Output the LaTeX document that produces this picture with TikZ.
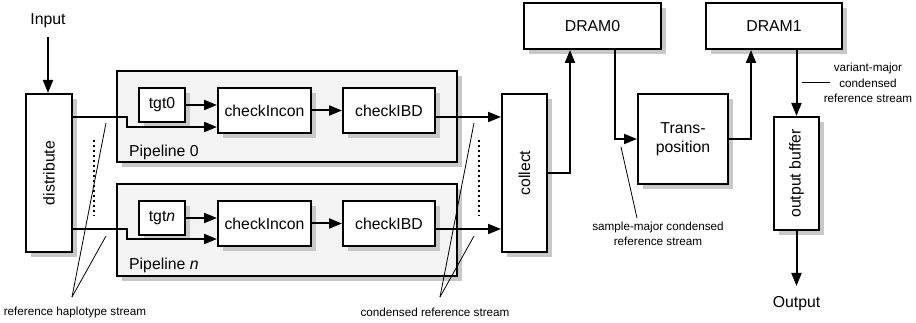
\documentclass[tikz,border=0pt]{standalone}
\usepackage{fontspec}
\setmainfont{Liberation Sans}
\usetikzlibrary{arrows.meta,shadows,calc}
\definecolor{shadowgray}{HTML}{C8C8C8}
\definecolor{pipefill}{HTML}{F3F3F3}
\tikzset{
  blk/.style={draw=black, line width=2pt, fill=white, inner sep=0pt,
    general shadow={fill=shadowgray, shadow xshift=5pt, shadow yshift=-5pt},
    font=\fontsize{15.8}{19}\selectfont, align=center},
  pipe/.style={blk, fill=pipefill},
  arr/.style={line width=2pt, -{Triangle[length=13pt,width=10pt]}},
  ann/.style={line width=0.8pt},
  small/.style={font=\fontsize{11.7}{15.5}\selectfont, align=center, inner sep=0pt},
  big/.style={font=\fontsize{15.8}{19}\selectfont, inner sep=0pt},
  dots/.style={line width=2pt, dash pattern=on 2pt off 3pt}
}
\begin{document}
\begin{tikzpicture}[x=1pt,y=-1pt]
\useasboundingbox (0,0) rectangle (916,323);
% pipelines
\node[pipe, minimum width=340, minimum height=91] (pipe0) at (287,116.5) {};
\node[pipe, minimum width=340, minimum height=92] (pipen) at (287,230) {};
\node[big, anchor=west] (pl0) at (129,152) {Pipeline 0};
\node[big, anchor=west] (pln) at (129,265) {Pipeline \textit{n}};
% blocks
\node[blk, minimum width=46, minimum height=158] (dist) at (49,173) {};
\node[big, rotate=90] (distl) at (dist.center) {distribute};
\node[blk, minimum width=46, minimum height=34] (tgt0) at (162,105) {tgt0};
\node[blk, minimum width=93, minimum height=45] (ci0) at (264.5,110.5) {checkIncon};
\node[blk, minimum width=92, minimum height=45] (ibd0) at (389,110.5) {checkIBD};
\node[blk, minimum width=46, minimum height=34] (tgtn) at (162,218) {tgt\textit{n}};
\node[blk, minimum width=93, minimum height=45] (cin) at (264.5,223.5) {checkIncon};
\node[blk, minimum width=92, minimum height=45] (ibdn) at (389,223.5) {checkIBD};
\node[blk, minimum width=45, minimum height=158] (coll) at (524.5,173) {};
\node[big, rotate=90] (colll) at (coll.center) {collect};
\node[blk, minimum width=137, minimum height=46] (dram0) at (592.5,26) {DRAM0};
\node[blk, minimum width=90, minimum height=90] (trans) at (683,139) {Trans-\\position};
\node[blk, minimum width=136, minimum height=46] (dram1) at (774,26) {DRAM1};
\node[blk, minimum width=45, minimum height=113] (obuf) at (796.5,173.5) {};
\node[big, rotate=90] (obufl) at (obuf.center) {output buffer};
% in / out
\node[big] (input) at (48,21) {Input};
\node[big] (output) at (796.5,304) {Output};
\draw[arr] (input.south |- 0,37) -- (dist.north -| input.south);
\draw[arr] (obuf.south) -- (output.north |- 0,286);
% pipeline 0 wiring
\draw[arr] (tgt0.east) -- (ci0.west |- tgt0.east);
\draw[arr] (dist.east |- 0,117) -- (127,117) -- (127,127) -- (ci0.west |- 0,127);
\draw[arr] (ci0.east) -- (ibd0.west);
\draw[arr] (ibd0.east |- 0,117) -- (coll.west |- 0,117);
% pipeline n wiring
\draw[arr] (tgtn.east) -- (cin.west |- tgtn.east);
\draw[arr] (dist.east |- 0,229) -- (127,229) -- (127,239) -- (cin.west |- 0,239);
\draw[arr] (cin.east) -- (ibdn.west);
\draw[arr] (ibdn.east |- 0,229) -- (coll.west |- 0,229);
% dots
\draw[dots] (94,140) -- (94,216);
\draw[dots] (479,140) -- (479,216);
% collect to DRAM etc
\draw[arr] (coll.east) -| ([xshift=-22.5pt]dram0.south);
\draw[arr] ([xshift=22.5pt]dram0.south) |- (trans.west);
\draw[arr] (trans.east) -| ([xshift=-23pt]dram1.south);
\draw[arr] (obuf.north |- dram1.south) -- (obuf.north);
% annotations
\node[small] (refh) at (75,312) {reference haplotype stream};
\coordinate (refhp) at (72,297);
\draw[ann] (refhp) -- (106,123);
\draw[ann] (refhp) -- (106,236);
\node[small] (cref) at (435,312) {condensed reference stream};
\coordinate (crefp) at (440,297);
\draw[ann] (crefp) -- (474,123);
\draw[ann] (crefp) -- (474,236);
\node[small] (smaj) at (658,234) {sample-major condensed\\reference stream};
\coordinate (smajp) at (637,218);
\draw[ann] (smajp) -- (621,147);
\node[small] (vmaj) at (868,83) {variant-major\\condensed\\reference stream};
\coordinate (vmajp) at (830,82);
\draw[ann] (vmajp) -- (802,82);
\end{tikzpicture}
\end{document}
